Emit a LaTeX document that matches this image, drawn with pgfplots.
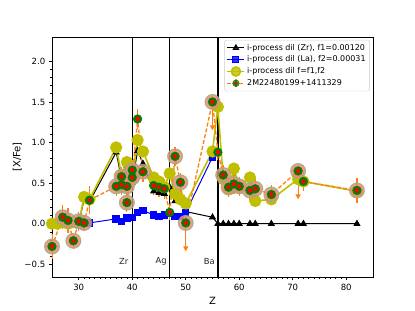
\documentclass[border=0pt]{standalone}
\usepackage{fontspec}
\setmainfont{DejaVu Sans}
\usepackage{pgfplots}
\usepackage{pgfplotstable}
\pgfplotsset{compat=1.18}
\usetikzlibrary{arrows.meta}
\definecolor{mplorange}{HTML}{FF7F0E}
\definecolor{mplyellow}{HTML}{BFBF00}
\definecolor{mplgreen}{HTML}{008000}
\definecolor{mplred}{HTML}{FF0000}
\definecolor{halofill}{RGB}{236,138,120}
\definecolor{haloedge}{RGB}{150,175,130}
\definecolor{legedge}{RGB}{204,204,204}

\pgfplotstableread{
Z v
25 0.00
26 0.00
27 0.02
28 0.00
29 0.02
30 0.01
31 0.30
32 0.27
37 0.88
38 0.55
39 0.72
40 0.50
41 0.90
42 0.74
44 0.40
45 0.38
46 0.37
47 0.45
48 0.28
49 0.28
50 0.15
55 0.08
56 0.00
57 0.00
58 0.00
59 0.00
60 0.00
62 0.00
63 0.00
66 0.00
71 0.00
72 0.00
82 0.00
}\blackmodel

\pgfplotstableread{
Z v
32 0.01
37 0.06
38 0.03
39 0.07
40 0.08
41 0.14
42 0.16
44 0.11
45 0.09
46 0.11
47 0.13
48 0.09
49 0.09
50 0.14
55 0.82
}\bluemodel

\pgfplotstableread{
Z v
25 0.00
26 0.00
27 0.02
28 0.00
29 0.02
30 0.01
31 0.33
32 0.30
37 0.94
38 0.60
39 0.76
40 0.55
41 1.03
42 0.89
44 0.57
45 0.52
46 0.45
47 0.62
48 0.37
49 0.30
50 0.25
55 0.89
56 1.44
57 0.55
58 0.42
59 0.68
60 0.45
62 0.57
63 0.28
66 0.30
71 0.55
72 0.52
82 0.40
}\yellowmodel

\pgfplotstableread{
Z v e
25 -0.28 0.15
27 0.08 0.15
28 0.04 0.15
29 -0.21 0.10
30 0.03 0.12
31 0.01 0.10
32 0.29 0.17
37 0.46 0.12
38 0.58 0.12
38 0.48 0.12
39 0.46 0.12
39 0.26 0.12
40 0.66 0.12
40 0.57 0.12
41 1.29 0.12
42 0.64 0.12
44 0.47 0.12
45 0.45 0.12
46 0.43 0.12
47 0.14 0.10
48 0.83 0.12
49 0.51 0.12
50 0.01 0.00
55 1.50 0.00
56 0.88 0.10
57 0.60 0.12
58 0.45 0.12
59 0.49 0.12
60 0.46 0.12
62 0.41 0.12
63 0.43 0.12
66 0.36 0.12
71 0.65 0.00
72 0.52 0.12
82 0.41 0.15
}\obs

\pgfplotstableread{
Z v
25 -0.28
27 0.08
28 0.04
29 -0.21
30 0.03
31 0.01
37 0.46
38 0.58
38 0.48
39 0.46
39 0.26
40 0.66
40 0.57
42 0.64
48 0.83
49 0.51
50 0.01
55 1.50
57 0.60
58 0.45
59 0.49
60 0.46
62 0.41
63 0.43
66 0.36
71 0.65
82 0.41
}\obshalo

\begin{document}
\begin{tikzpicture}
\useasboundingbox (-52bp,-34bp) rectangle (363bp,277bp);
\begin{axis}[
  at={(0,0)}, anchor=south west,
  scale only axis, width=321bp, height=240bp,
  xmin=25, xmax=85, ymin=-0.656, ymax=2.3,
  xtick={30,40,50,60,70,80}, minor x tick num=9,
  ytick={-0.5,0,0.5,1,1.5,2},
  yticklabels={−0.5,0.0,0.5,1.0,1.5,2.0},
  minor y tick num=4,
  tick align=outside, xtick pos=bottom, ytick pos=left,
  major tick length=3.2bp, minor tick length=1.8bp,
  every tick/.style={black, line width=0.7bp},
  axis line style={black, line width=0.8bp},
  ticklabel style={font=\fontsize{8.6}{10}\selectfont},
  /pgf/number format/assume math mode=true,
  xlabel={Z}, ylabel={[X/Fe]},
  label style={font=\fontsize{14.4}{16}\selectfont},
  every axis x label/.style={at={(axis description cs:0.5,-0.099)}, anchor=center},
  every axis y label/.style={at={(axis description cs:-0.108,0.5)}, rotate=90, anchor=center},
  legend style={at={(rel axis cs:0.99,0.988)}, anchor=north east, draw=legedge, rounded corners=2bp, fill=white, fill opacity=0.8, text opacity=1, font=\fontsize{8}{9.4}\selectfont, inner sep=2bp, row sep=0.3bp},
  legend cell align=left,
  clip=true,
]
% vertical element lines
\addplot[black, line width=1.3bp, forget plot] coordinates {(40,-0.656) (40,2.3)};
\addplot[black, line width=1.3bp, forget plot] coordinates {(47,-0.656) (47,2.3)};
\addplot[black, line width=1.3bp, forget plot] coordinates {(56,-0.656) (56,2.3)};

% models
\addplot[black, line width=1bp, mark=triangle*, mark size=3.2bp, forget plot] table[x=Z,y=v] {\blackmodel};
\addplot[blue, line width=1bp, mark=square*, mark size=3.2bp, forget plot] table[x=Z,y=v] {\bluemodel};
\addplot[mplyellow, line width=1.6bp, mark=*, mark size=5.3bp, forget plot] table[x=Z,y=v] {\yellowmodel};

% observations: dashed connector + error bars
\addplot[mplorange, dashed, dash pattern=on 4bp off 2bp, line width=1.3bp, forget plot,
  error bars/.cd, y dir=both, y explicit, error mark=none,
  error bar style={solid, line width=1.2bp, mplorange}]
  table[x=Z,y=v,y error=e] {\obs};
% upper limits
\addplot[mplorange, line width=1.2bp, -{Triangle[width=5bp,length=5bp]}, forget plot] coordinates {(50,0.01) (50,-0.34)};
\addplot[mplorange, line width=1.2bp, -{Triangle[width=5bp,length=5bp]}, forget plot] coordinates {(55,1.50) (55,1.15)};
\addplot[mplorange, line width=1.2bp, -{Triangle[width=5bp,length=5bp]}, forget plot] coordinates {(71,0.65) (71,0.30)};
% halos
\addplot[only marks, mark=*, mark size=7.5bp, mark options={fill=halofill, draw=haloedge, line width=1bp, fill opacity=0.85, draw opacity=0.8}, forget plot] table[x=Z,y=v] {\obshalo};
% green + red markers
\addplot[only marks, mark=*, mark size=4.4bp, mark options={fill=mplgreen, draw=mplgreen}, forget plot] table[x=Z,y=v] {\obs};
\addplot[only marks, mark=*, mark size=2bp, mark options={fill=mplred, draw=mplred}, forget plot] table[x=Z,y=v] {\obs};

% labels of the vertical lines
\node[font=\fontsize{8.4}{10}\selectfont, text=black!85] at (axis cs:38.4,-0.46) {Zr};
\node[font=\fontsize{8.4}{10}\selectfont, text=black!85] at (axis cs:45.4,-0.46) {Ag};
\node[font=\fontsize{8.4}{10}\selectfont, text=black!85] at (axis cs:54.4,-0.46) {Ba};

% legend
\addlegendimage{black, line width=1bp, mark=triangle*, mark size=3bp}
\addlegendentry{i-process dil (Zr), f1=0.00120}
\addlegendimage{blue, line width=1bp, mark=square*, mark size=3bp}
\addlegendentry{i-process dil (La), f2=0.00031}
\addlegendimage{mplyellow, line width=1.6bp, mark=*, mark size=4.5bp}
\addlegendentry{i-process dil f=f1,f2}
\addlegendimage{legend image code/.code={
  \draw[mplorange, dashed, dash pattern=on 4bp off 2bp, line width=1.3bp] (0cm,0cm) -- (0.6cm,0cm);
  \draw[mplorange, line width=1.2bp] (0.3cm,-4bp) -- (0.3cm,4bp);
  \fill[mplgreen] (0.3cm,0cm) circle (3.3bp);
  \fill[mplred] (0.3cm,0cm) circle (1.5bp);
}}
\addlegendentry{2M22480199+1411329}
\end{axis}
\end{tikzpicture}
\end{document}
